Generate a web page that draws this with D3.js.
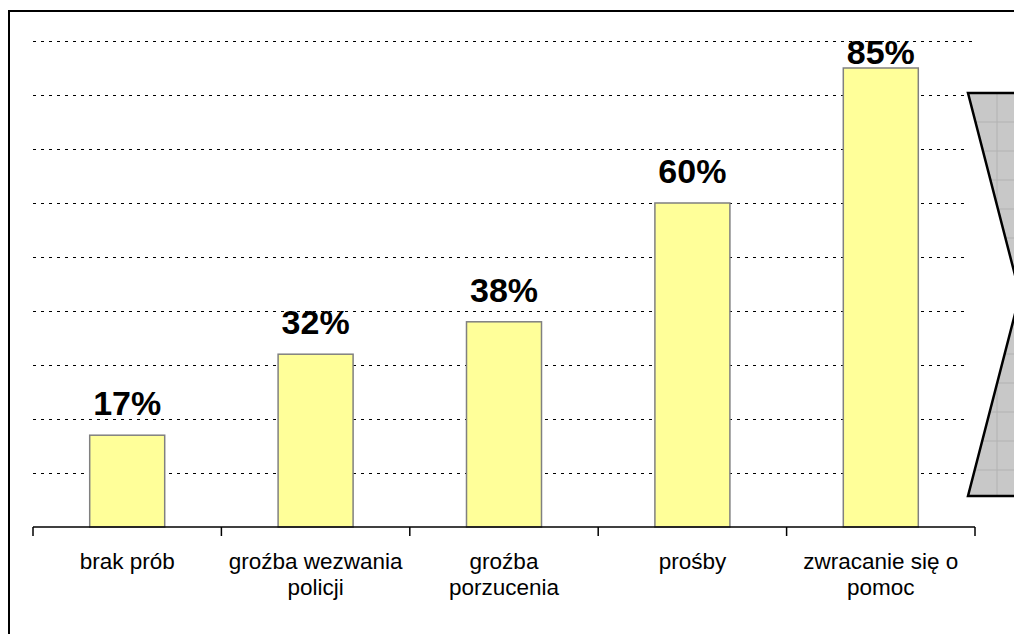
<!DOCTYPE html>
<html>
<head>
<meta charset="utf-8">
<script src="https://cdn.jsdelivr.net/npm/d3@7"></script>
<style>
  body { margin: 0; background: #fff; }
  svg text { font-family: "Liberation Sans", Arial, sans-serif; fill: #000; }
</style>
</head>
<body>
<svg id="chart" width="1014" height="634"></svg>
<script>
// data
var categories = ["brak prób", "groźba wezwania policji", "groźba porzucenia", "prośby", "zwracanie się o pomoc"];
var labelLines = [["brak prób"], ["groźba wezwania", "policji"], ["groźba", "porzucenia"], ["prośby"], ["zwracanie się o", "pomoc"]];
var values = [17, 32, 38, 60, 85];
var gridTicks = [10, 20, 30, 40, 50, 60, 70, 80, 90];

var svg = d3.select("#chart");

// outer frame (runs off the picture at right and bottom)
svg.append("rect")
    .attr("x", 9).attr("y", 11)
    .attr("width", 1020).attr("height", 640)
    .style("fill", "none")
    .style("stroke", "#000")
    .style("stroke-width", 2);

var x = d3.scaleBand()
    .domain(categories)
    .range([33, 975])
    .padding(0);

var y = d3.scaleLinear()
    .domain([0, 90])
    .range([527, 41]);

// grey decoration on the right, cut by an hourglass outline
var shapeTop = 93, shapeBot = 496, edgeX = 968;
var tipX = 1020, tipY = (shapeTop + shapeBot) / 2;
var shapeG = svg.append("g");
shapeG.append("rect")
    .attr("x", edgeX).attr("y", shapeTop)
    .attr("width", 60).attr("height", shapeBot - shapeTop)
    .style("fill", "#c8c8c8");
for (var yy = shapeTop + 29; yy < shapeBot; yy += 29) {
    shapeG.append("line")
        .attr("x1", edgeX).attr("x2", 1014)
        .attr("y1", yy).attr("y2", yy)
        .style("stroke", "#b2b2b2").style("stroke-width", 1);
}
shapeG.append("line")
    .attr("x1", 997).attr("x2", 997)
    .attr("y1", shapeTop).attr("y2", shapeBot)
    .style("stroke", "#b2b2b2").style("stroke-width", 1);
svg.append("path")
    .attr("d", "M" + (edgeX - 1) + "," + (shapeTop - 1) + " L" + tipX + "," + tipY +
               " L" + (edgeX - 1) + "," + (shapeBot + 1) + " Z")
    .style("fill", "#fff");
svg.append("path")
    .attr("d", "M1020," + shapeTop + " L" + edgeX + "," + shapeTop + " L" + tipX + "," + tipY +
               " L" + edgeX + "," + shapeBot + " L1020," + shapeBot)
    .style("fill", "none")
    .style("stroke", "#000")
    .style("stroke-width", 2.5);

// dotted gridlines
svg.append("g")
    .selectAll("line")
    .data(gridTicks)
    .join("line")
    .attr("x1", 33)
    .attr("x2", function(d) { return d === 90 ? 972 : 968; })
    .attr("y1", function(d) { return Math.round(y(d)) + 0.5; })
    .attr("y2", function(d) { return Math.round(y(d)) + 0.5; })
    .style("stroke", "#000")
    .style("stroke-width", 1)
    .style("stroke-dasharray", "3,5");

// bars
var barW = 75;
svg.append("g")
    .selectAll("rect")
    .data(values)
    .join("rect")
    .attr("x", function(d, i) { return x(categories[i]) + x.bandwidth() / 2 - barW / 2; })
    .attr("y", function(d) { return y(d); })
    .attr("width", barW)
    .attr("height", function(d) { return y(0) - y(d); })
    .style("fill", "#ffff99")
    .style("stroke", "#808080")
    .style("stroke-width", 1.5);

// value labels (pushed inside the plot top when they would overflow)
svg.append("g")
    .selectAll("text")
    .data(values)
    .join("text")
    .attr("x", function(d, i) { return x(categories[i]) + x.bandwidth() / 2; })
    .attr("y", function(d) { return Math.max(y(d) - 20, 64); })
    .attr("text-anchor", "middle")
    .style("font-size", "34px")
    .style("font-weight", "bold")
    .text(function(d) { return d + "%"; });

// x axis
var axisG = svg.append("g")
    .attr("transform", "translate(0," + y(0) + ")")
    .call(d3.axisBottom(x).tickSize(0).tickFormat(""));
axisG.select(".domain")
    .attr("d", "M33,0H975")
    .style("stroke", "#000").style("stroke-width", 1.5);
var edges = categories.map(function(c) { return x(c); }).concat([x.range()[1]]);
axisG.selectAll(".edge")
    .data(edges)
    .join("line")
    .attr("class", "edge")
    .attr("x1", function(d) { return d; }).attr("x2", function(d) { return d; })
    .attr("y1", 0).attr("y2", 9)
    .style("stroke", "#000").style("stroke-width", 1.5);

// category labels
var lab = svg.append("g")
    .selectAll("text")
    .data(labelLines)
    .join("text")
    .attr("text-anchor", "middle")
    .style("font-size", "22.5px")
    .attr("x", function(d, i) { return x(categories[i]) + x.bandwidth() / 2; })
    .attr("y", 569);
lab.selectAll("tspan")
    .data(function(d) { return d; })
    .join("tspan")
    .attr("x", function() { return d3.select(this.parentNode).attr("x"); })
    .attr("dy", function(d, i) { return i === 0 ? 0 : 26; })
    .text(function(d) { return d; });
</script>
</body>
</html>
